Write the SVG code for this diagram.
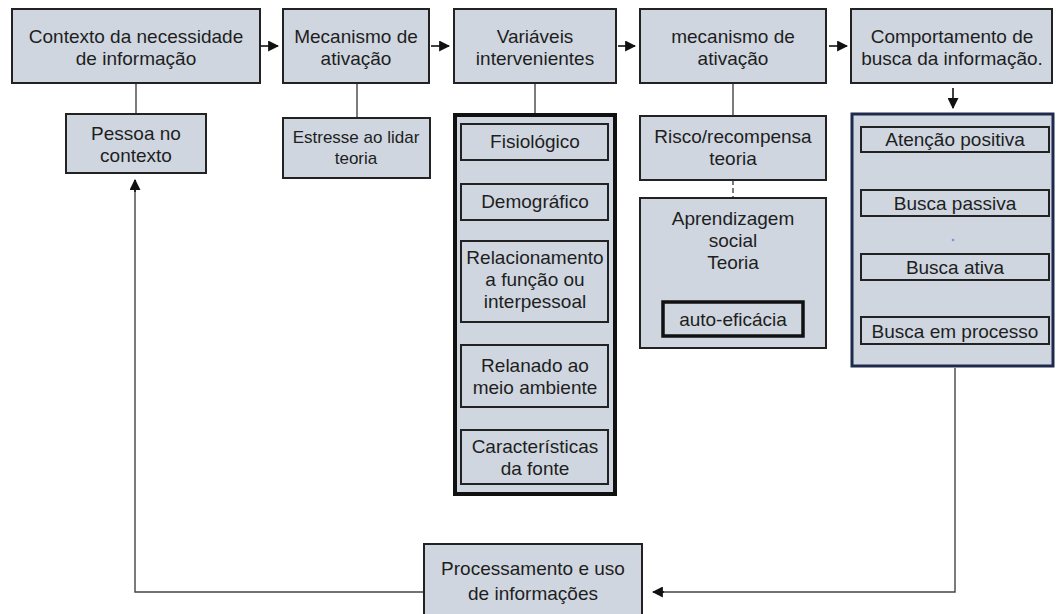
<svg xmlns="http://www.w3.org/2000/svg" width="1057" height="614" viewBox="0 0 1057 614">
<defs>
<marker id="ah" viewBox="0 0 10 10" refX="9" refY="5" markerWidth="11" markerHeight="11" markerUnits="userSpaceOnUse" orient="auto">
<path d="M0,0 L10,5 L0,10 z" fill="#111"/>
</marker>
</defs>
<style>
.box{fill:#cfd6e0;stroke:#222;stroke-width:2}
.inner{fill:#cfd6e0;stroke:#222;stroke-width:2}
.t{font-family:"Liberation Sans",Arial,sans-serif;font-size:19px;fill:#1e1e1e;text-anchor:middle}
.s{font-size:17px}
.c{fill:none;stroke:#444;stroke-width:1.4}
.a{fill:none;stroke:#111;stroke-width:1.6;marker-end:url(#ah)}
</style>
<rect width="1057" height="614" fill="#fff"/>
<g id="connectors">
<line class="a" x1="261" y1="46" x2="278" y2="46"/>
<line class="a" x1="431" y1="46" x2="449" y2="46"/>
<line class="a" x1="618" y1="46" x2="635" y2="46"/>
<line class="a" x1="829" y1="46" x2="847" y2="46"/>
<line class="c" x1="136" y1="83" x2="136" y2="114"/>
<line class="c" x1="357" y1="83" x2="357" y2="118"/>
<line class="c" x1="535" y1="83" x2="535" y2="113"/>
<line class="c" x1="733" y1="83" x2="733" y2="116"/>
<line class="c" x1="733" y1="180" x2="733" y2="198" stroke-dasharray="5,3"/>
<line class="a" x1="953" y1="88" x2="953" y2="108"/>
<polyline class="c" points="955,368 955,592 660,592"/>
<line class="a" x1="664" y1="592" x2="653" y2="592"/>
<polyline class="c" points="424,592 135,592 135,190"/>
<line class="a" x1="135" y1="192" x2="135" y2="180"/>
</g>
<g id="n1"><rect class="box" x="12" y="9" width="248" height="74"/>
<text class="t" x="136" y="43">Contexto da necessidade</text><text class="t" x="136" y="65">de informação</text></g>
<g id="n2"><rect class="box" x="283" y="9" width="146" height="74"/>
<text class="t" x="356" y="43">Mecanismo de</text><text class="t" x="356" y="65">ativação</text></g>
<g id="n3"><rect class="box" x="454" y="9" width="162" height="74"/>
<text class="t" x="535" y="43">Variáveis</text><text class="t" x="535" y="65">intervenientes</text></g>
<g id="n4"><rect class="box" x="640" y="9" width="186" height="74"/>
<text class="t" x="733" y="43">mecanismo de</text><text class="t" x="733" y="65">ativação</text></g>
<g id="n5"><rect class="box" x="851" y="9" width="201" height="74"/>
<text class="t" x="952" y="43">Comportamento de</text><text class="t" x="952" y="65">busca da informação.</text></g>
<g id="pessoa"><rect class="box" x="66" y="114" width="140" height="59"/>
<text class="t" x="136" y="140">Pessoa no</text><text class="t" x="136" y="162">contexto</text></g>
<g id="estresse"><rect class="box" x="283" y="118" width="147" height="60"/>
<text class="t s" x="356" y="143">Estresse ao lidar</text><text class="t s" x="356" y="164">teoria</text></g>
<g id="variaveis"><rect x="455" y="115" width="160" height="379" fill="#cfd6e0" stroke="#111" stroke-width="4"/>
<rect class="inner" x="461" y="124" width="147" height="36"/><text class="t" x="535" y="148">Fisiológico</text>
<rect class="inner" x="461" y="184" width="147" height="36"/><text class="t" x="535" y="208">Demográfico</text>
<rect class="inner" x="461" y="241" width="147" height="81"/><text class="t" x="535" y="264">Relacionamento</text><text class="t" x="535" y="286">a função ou</text><text class="t" x="535" y="308">interpessoal</text>
<rect class="inner" x="461" y="345" width="147" height="62"/><text class="t" x="535" y="372">Relanado ao</text><text class="t" x="535" y="394">meio ambiente</text>
<rect class="inner" x="461" y="430" width="147" height="54"/><text class="t" x="535" y="453">Características</text><text class="t" x="535" y="475">da fonte</text></g>
<g id="risco"><rect class="box" x="640" y="116" width="186" height="64"/>
<text class="t" x="733" y="143">Risco/recompensa</text><text class="t" x="733" y="165">teoria</text></g>
<g id="aprendizagem"><rect class="box" x="640" y="198" width="186" height="150"/>
<text class="t" x="733" y="225">Aprendizagem</text><text class="t" x="733" y="247">social</text><text class="t" x="733" y="269">Teoria</text>
<rect x="663" y="302" width="140" height="34" fill="#cfd6e0" stroke="#111" stroke-width="3.5"/><text class="t" x="733" y="326">auto-eficácia</text></g>
<g id="busca"><rect x="852" y="114" width="201" height="252" fill="#cfd6e0" stroke="#1e2a4c" stroke-width="3"/>
<rect class="inner" x="861" y="127" width="188" height="25"/><text class="t" x="955" y="146">Atenção positiva</text>
<rect class="inner" x="861" y="190" width="188" height="26"/><text class="t" x="955" y="210">Busca passiva</text>
<circle cx="953" cy="240" r="1.3" fill="#7f8ee0"/>
<rect class="inner" x="861" y="254" width="188" height="26"/><text class="t" x="955" y="274">Busca ativa</text>
<rect class="inner" x="861" y="317" width="188" height="27"/><text class="t" x="955" y="338">Busca em processo</text></g>
<g id="processamento"><rect class="box" x="424" y="544" width="218" height="80"/>
<text class="t" x="533" y="575">Processamento e uso</text><text class="t" x="533" y="600">de informações</text></g>
</svg>
